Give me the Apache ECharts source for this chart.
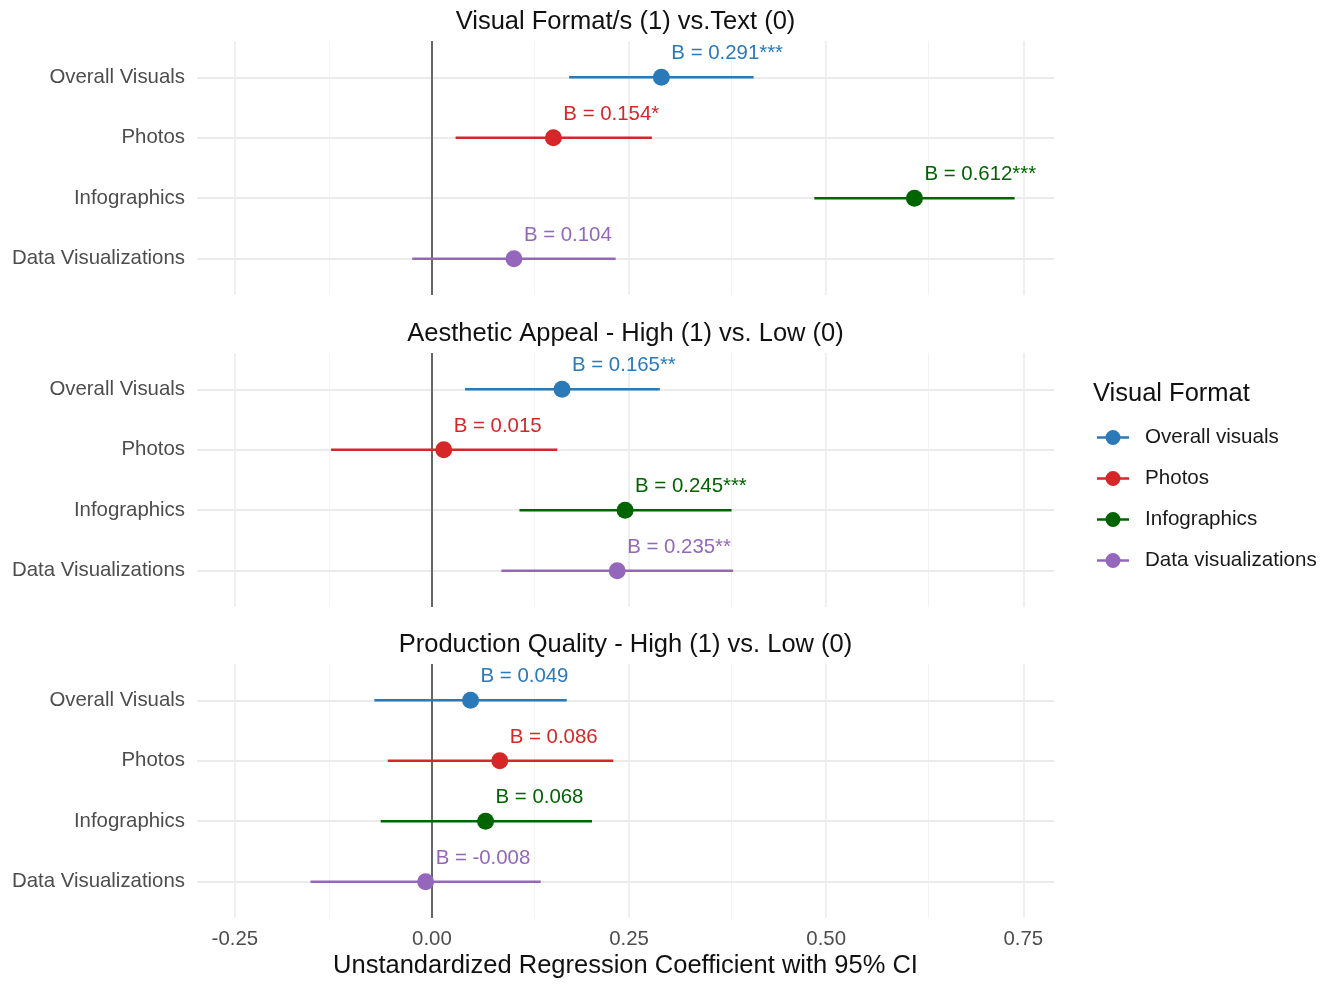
<!DOCTYPE html>
<html>
<head>
<meta charset="utf-8">
<script src="https://cdn.jsdelivr.net/npm/echarts@6/dist/echarts.min.js"></script>
<style>html,body{margin:0;padding:0;background:#fff}#c{width:1336px;height:984px}</style>
</head>
<body>
<div id="c"></div>
<script>
// ---- data ----
const formats = ['Overall Visuals', 'Photos', 'Infographics', 'Data Visualizations'];
const legendNames = ['Overall visuals', 'Photos', 'Infographics', 'Data visualizations'];
const panelTitles = ['Visual Format/s (1) vs.Text (0)', 'Aesthetic Appeal - High (1) vs. Low (0)', 'Production Quality - High (1) vs. Low (0)'];
const estimates = [[0.291, 0.154, 0.612, 0.104], [0.165, 0.015, 0.245, 0.235], [0.049, 0.086, 0.068, -0.008]];
const lowerCI = [[0.174, 0.030, 0.485, -0.025], [0.042, -0.128, 0.111, 0.088], [-0.073, -0.056, -0.065, -0.154]];
const upperCI = [[0.408, 0.279, 0.739, 0.233], [0.289, 0.159, 0.380, 0.382], [0.171, 0.230, 0.203, 0.138]];
const stars = [['***', '*', '***', ''], ['**', '', '***', '**'], ['', '', '', '']];
const xTicks = [-0.25, 0, 0.25, 0.5, 0.75];
const xMinorTicks = [-0.125, 0.125, 0.375, 0.625];
const xAxisTitle = 'Unstandardized Regression Coefficient with 95% CI';
const legendTitle = 'Visual Format';

// ---- style ----
const colors = ['#2a7ab9', '#d62728', '#006400', '#9467bd'];
const FONT = 'Liberation Sans';
const XMIN = -0.298, XMAX = 0.789;
const gridTops = [41, 353, 664];
const GRID_LEFT = 197, GRID_W = 857, GRID_H = 254;
const ICON = 'path://M0,6.8 L32,6.8 L32,9.2 L0,9.2 Z M16,0.5 A7.5,7.5 0 1,1 16,15.5 A7.5,7.5 0 1,1 16,0.5 Z';
const TITLE_SIZE = 25.5, TEXT_SIZE = 20.4;

const grids = [], xAxes = [], yAxes = [], titles = [];
const scatterSeries = [], otherSeries = [];

panelTitles.forEach((t, p) => {
  grids.push({ left: GRID_LEFT, top: gridTops[p], width: GRID_W, height: GRID_H });
  xAxes.push({
    type: 'value', gridIndex: p, min: XMIN, max: XMAX,
    axisLine: { show: false }, axisTick: { show: false }, splitLine: { show: false },
    axisLabel: {
      show: p === 2, customValues: xTicks, formatter: v => v.toFixed(2),
      fontSize: TEXT_SIZE, color: '#4d4d4d', fontFamily: FONT, margin: 11
    }
  });
  yAxes.push({
    type: 'value', gridIndex: p, inverse: true, min: 0.4, max: 4.6,
    axisLine: { show: false }, axisTick: { show: false }, splitLine: { show: false },
    axisLabel: {
      customValues: formats.map((f, i) => i + 1),
      formatter: v => formats[Math.round(v) - 1] || '',
      fontSize: TEXT_SIZE, color: '#4d4d4d', fontFamily: FONT, margin: 12
    }
  });
  titles.push({
    text: t, left: GRID_LEFT + GRID_W / 2, top: gridTops[p] - 32, textAlign: 'center', padding: 0,
    textStyle: { fontSize: TITLE_SIZE, fontWeight: 'normal', color: '#111111', fontFamily: FONT }
  });

  // gridlines
  const gl = [];
  xTicks.forEach(v => gl.push({ xAxis: v, lineStyle: { color: '#ebebeb', width: 1.6, type: 'solid' } }));
  xMinorTicks.forEach(v => gl.push({ xAxis: v, lineStyle: { color: '#f2f2f2', width: 1, type: 'solid' } }));
  formats.forEach((f, i) => gl.push({ yAxis: i + 1, lineStyle: { color: '#ebebeb', width: 2, type: 'solid' } }));
  otherSeries.push({
    type: 'line', xAxisIndex: p, yAxisIndex: p, data: [], z: 1, silent: true,
    markLine: { z: 1, silent: true, symbol: 'none', animation: false, label: { show: false }, data: gl }
  });
  // zero line
  otherSeries.push({
    type: 'line', xAxisIndex: p, yAxisIndex: p, data: [], z: 2, silent: true,
    markLine: {
      z: 2, silent: true, symbol: 'none', animation: false, label: { show: false },
      data: [{ xAxis: 0, lineStyle: { color: '#666666', width: 2, type: 'solid' } }]
    }
  });

  formats.forEach((f, i) => {
    const row = i + 1;
    otherSeries.push({
      type: 'line', name: legendNames[i], xAxisIndex: p, yAxisIndex: p, z: 3,
      data: [[lowerCI[p][i], row], [upperCI[p][i], row]],
      showSymbol: false, symbol: 'none', silent: true,
      lineStyle: { color: colors[i], width: 2.6 }, itemStyle: { color: colors[i] }
    });
    scatterSeries.push({
      type: 'scatter', name: legendNames[i], xAxisIndex: p, yAxisIndex: p, z: 4,
      data: [[estimates[p][i], row]], symbolSize: 17,
      itemStyle: { color: colors[i], opacity: 1 },
      label: {
        show: true, position: 'top', align: 'left', offset: [10, 0], distance: 5,
        formatter: 'B = ' + estimates[p][i].toFixed(3) + stars[p][i],
        color: colors[i], fontSize: TEXT_SIZE, fontFamily: FONT
      }
    });
  });
});

titles.push({
  text: xAxisTitle, left: GRID_LEFT + GRID_W / 2, top: 953, textAlign: 'center', padding: 0,
  textStyle: { fontSize: TITLE_SIZE, fontWeight: 'normal', color: '#111111', fontFamily: FONT }
});
titles.push({
  text: legendTitle, left: 1093, top: 381, padding: 0,
  textStyle: { fontSize: TITLE_SIZE, fontWeight: 'normal', color: '#111111', fontFamily: FONT }
});

const chart = echarts.init(document.getElementById('c'), null, { renderer: 'canvas' });
chart.setOption({
  animation: false,
  backgroundColor: '#ffffff',
  textStyle: { fontFamily: FONT },
  title: titles,
  grid: grids,
  xAxis: xAxes,
  yAxis: yAxes,
  legend: {
    orient: 'vertical', left: 1097, top: 427, padding: 0,
    itemWidth: 32, itemHeight: 15, itemGap: 20,
    data: legendNames.map(n => ({ name: n, icon: ICON })),
    textStyle: { fontSize: 20.6, lineHeight: 20, color: '#1a1a1a', fontFamily: FONT, padding: [0, 0, 0, 11] }
  },
  series: scatterSeries.concat(otherSeries)
});
</script>
</body>
</html>
